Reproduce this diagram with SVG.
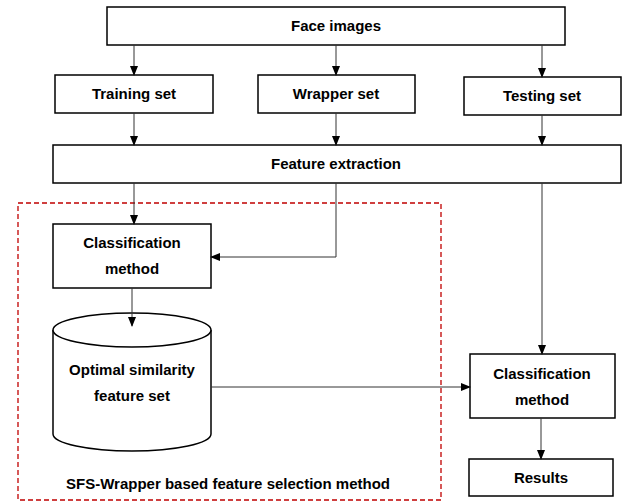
<svg xmlns="http://www.w3.org/2000/svg" width="623" height="504" viewBox="0 0 623 504">
<defs>
<marker id="ah" markerWidth="10" markerHeight="10" refX="9" refY="5" orient="auto" markerUnits="userSpaceOnUse">
<path d="M0,1 L10,5 L0,9 Z" fill="#000"/>
</marker>
<style>
.box{fill:#fff;stroke:#000;stroke-width:1.5}
.t{font-family:"Liberation Sans",Arial,sans-serif;font-weight:bold;font-size:15px;fill:#000;text-anchor:middle}
.c{fill:none;stroke:#333;stroke-width:1;marker-end:url(#ah)}
</style>
</defs>
<rect x="0" y="0" width="623" height="504" fill="#fff"/>
<rect id="group-sfs" x="18" y="203" width="423" height="297" fill="none" stroke="#c00000" stroke-width="1.3" stroke-dasharray="5,3"/>
<g id="face-images"><rect class="box" x="107" y="7" width="458" height="38"/><text class="t" x="336" y="31">Face images</text></g>
<g id="training-set"><rect class="box" x="55" y="75" width="158" height="38"/><text class="t" x="134" y="99">Training set</text></g>
<g id="wrapper-set"><rect class="box" x="258" y="75" width="157" height="38"/><text class="t" x="336" y="99">Wrapper set</text></g>
<g id="testing-set"><rect class="box" x="464" y="77" width="157" height="38"/><text class="t" x="542" y="101">Testing set</text></g>
<g id="feature-extraction"><rect class="box" x="53" y="145" width="568" height="38"/><text class="t" x="336" y="169">Feature extraction</text></g>
<g id="classification-1"><rect class="box" x="53" y="224" width="158" height="64"/><text class="t" x="132" y="248">Classification</text><text class="t" x="132" y="274">method</text></g>
<g id="optimal-set">
<path class="box" d="M53,330 V434 A79,17 0 0 0 211,434 V330"/>
<ellipse class="box" cx="132" cy="330" rx="79" ry="17"/>
<text class="t" x="132" y="375">Optimal similarity</text><text class="t" x="132" y="401">feature set</text>
</g>
<g id="classification-2"><rect class="box" x="470" y="354" width="145" height="64"/><text class="t" x="542" y="379">Classification</text><text class="t" x="542" y="405">method</text></g>
<g id="results"><rect class="box" x="469" y="459" width="144" height="37"/><text class="t" x="541" y="483">Results</text></g>
<text class="t" x="228" y="489">SFS-Wrapper based feature selection method</text>
<g id="connectors">
<path class="c" d="M134,45 V75"/>
<path class="c" d="M336,45 V75"/>
<path class="c" d="M542,45 V77"/>
<path class="c" d="M134,113 V145"/>
<path class="c" d="M336,113 V145"/>
<path class="c" d="M542,115 V145"/>
<path class="c" d="M134,183 V224"/>
<path class="c" d="M336,183 V257 H211"/>
<path class="c" d="M542,183 V354"/>
<path class="c" d="M132,288 V326"/>
<path class="c" d="M211,387 H470"/>
<path class="c" d="M541,418 V459"/>
</g>
</svg>
